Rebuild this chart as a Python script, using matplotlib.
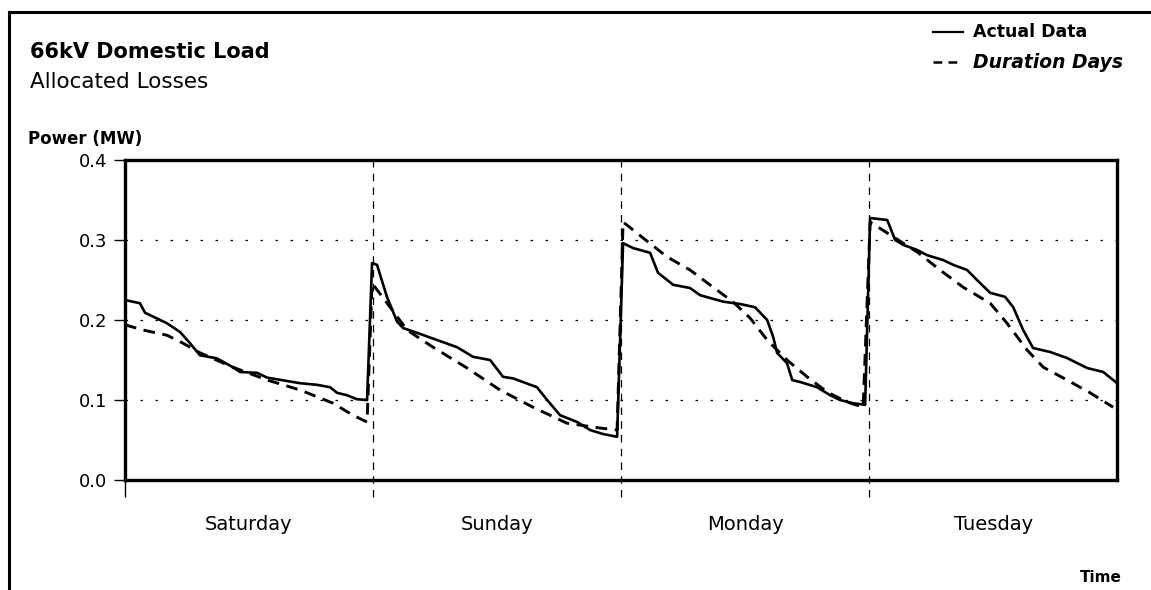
"""
66kV domestic load: allocated losses, actual data vs duration days.
"""

import matplotlib
matplotlib.use("Agg")
import matplotlib.pyplot as plt
from matplotlib.lines import Line2D

plt.rcParams['font.family'] = ['DejaVu Sans']

# time in days from Saturday 00:00
actual_time = [0.000, 0.060, 0.081, 0.169, 0.222, 0.262, 0.302, 0.371, 0.435, 0.464,
               0.532, 0.573, 0.706, 0.774, 0.827, 0.855, 0.895, 0.935, 0.976,
               0.996, 1.016, 1.056, 1.097, 1.121, 1.177, 1.258, 1.339, 1.403, 1.472,
               1.524, 1.565, 1.661, 1.702, 1.754, 1.823, 1.875, 1.927, 1.984,
               2.008, 2.048, 2.117, 2.149, 2.210, 2.278, 2.319, 2.411, 2.480, 2.540,
               2.589, 2.613, 2.629, 2.669, 2.690, 2.722, 2.790, 2.843, 2.883, 2.935, 2.984,
               3.004, 3.073, 3.105, 3.137, 3.194, 3.234, 3.298, 3.339, 3.395, 3.435,
               3.488, 3.548, 3.581, 3.621, 3.661, 3.730, 3.798, 3.879, 3.944, 4.000]
actual_power = [0.225, 0.221, 0.209, 0.196, 0.185, 0.171, 0.156, 0.152, 0.141, 0.135,
                0.134, 0.128, 0.121, 0.119, 0.116, 0.109, 0.106, 0.101, 0.100,
                0.271, 0.269, 0.229, 0.198, 0.190, 0.184, 0.175, 0.166, 0.154, 0.150,
                0.129, 0.127, 0.116, 0.100, 0.081, 0.0725, 0.0625, 0.0575, 0.054,
                0.296, 0.290, 0.284, 0.259, 0.244, 0.240, 0.231, 0.223, 0.220, 0.216,
                0.200, 0.179, 0.159, 0.146, 0.125, 0.1225, 0.116, 0.106, 0.100, 0.096, 0.094,
                0.3275, 0.325, 0.300, 0.294, 0.2875, 0.281, 0.275, 0.269, 0.2625, 0.250,
                0.234, 0.229, 0.216, 0.1875, 0.165, 0.160, 0.1525, 0.140, 0.135, 0.121]

duration_time = [0.000, 0.073, 0.169, 0.234, 0.302, 0.435, 0.573, 0.706, 0.839, 0.919, 0.976,
                 0.996, 1.069, 1.137, 1.242, 1.379, 1.512, 1.645, 1.782, 1.915, 1.984,
                 2.008, 2.089, 2.185, 2.278, 2.371, 2.452, 2.520, 2.589, 2.669, 2.750,
                 2.831, 2.911, 2.976,
                 3.004, 3.097, 3.194, 3.286, 3.379, 3.488, 3.556, 3.637, 3.702, 3.798,
                 3.891, 3.984]
duration_power = [0.194, 0.1875, 0.181, 0.171, 0.159, 0.141, 0.125, 0.1125, 0.096, 0.081, 0.0725,
                  0.246, 0.216, 0.1875, 0.166, 0.140, 0.1125, 0.091, 0.071, 0.065, 0.0625,
                  0.3225, 0.3025, 0.279, 0.2625, 0.241, 0.2225, 0.2025, 0.175, 0.150, 0.129,
                  0.110, 0.0975, 0.091,
                  0.3225, 0.304, 0.285, 0.2625, 0.241, 0.221, 0.196, 0.1625, 0.141, 0.125,
                  0.109, 0.091]

days = ['Saturday', 'Sunday', 'Monday', 'Tuesday']
y_ticks = [0.0, 0.1, 0.2, 0.3, 0.4]

fig = plt.figure(figsize=(11.51, 5.90), dpi=100)
ax = fig.add_axes([0.1086, 0.1864, 0.862, 0.5424])

# sparse dotted grid like the original scan
for y in y_ticks[1:-1]:
    ax.axhline(y, color='black', lw=0.9, ls=(0, (2, 10)), zorder=1)

# day separators, running a little below the axis
ax.vlines([1, 2, 3], -0.021, 0.4, colors='black', linestyles=(0, (6, 5)),
          lw=0.9, clip_on=False, zorder=1)

ax.plot(actual_time, actual_power, color='black', lw=1.9, zorder=3)
ax.plot(duration_time, duration_power, color='black', lw=2.1, ls=(0, (4, 2.6)), zorder=3)

ax.set_xlim(0, 4)
ax.set_ylim(0, 0.4)
ax.set_yticks(y_ticks)
ax.set_yticklabels([f'{v:.1f}' for v in y_ticks], fontsize=13)
ax.tick_params(axis='y', length=8, width=1, pad=5)

ax.set_xticks([0])
ax.set_xticklabels([''])
ax.tick_params(axis='x', which='major', length=12, width=1)
ax.set_xticks([0.5, 1.5, 2.5, 3.5], minor=True)
ax.set_xticklabels(days, minor=True, fontsize=14)
ax.tick_params(axis='x', which='minor', length=0, pad=25)

for sp in ax.spines.values():
    sp.set_linewidth(2.4)

# header text
fig.text(30 / 1151, 1 - 52 / 590, '66kV Domestic Load', fontsize=15, fontweight='bold',
         va='center', ha='left')
fig.text(30 / 1151, 1 - 82 / 590, 'Allocated Losses', fontsize=15.5, va='center', ha='left')
fig.text(28 / 1151, 1 - 139 / 590, 'Power (MW)', fontsize=12, fontweight='bold',
         va='center', ha='left')
fig.text(1122 / 1151, 1 - 578 / 590, 'Time', fontsize=11, fontweight='bold',
         va='center', ha='right')

# legend drawn by hand at the top right
fig.add_artist(Line2D([933 / 1151, 963 / 1151], [1 - 32 / 590] * 2, color='black', lw=1.6))
fig.add_artist(Line2D([933 / 1151, 963 / 1151], [1 - 62 / 590] * 2, color='black', lw=1.8,
                      ls=(0, (3.5, 2.5))))
fig.text(973 / 1151, 1 - 32 / 590, 'Actual Data', fontsize=12.5, fontweight='bold', va='center')
fig.text(973 / 1151, 1 - 62 / 590, 'Duration Days', fontsize=13.5, fontweight='bold',
         style='italic', va='center')

# outer frame (left and top edges only, as in the scan)
fig.add_artist(Line2D([9 / 1151, 9 / 1151], [0, 1 - 12 / 590], color='black', lw=2.2))
fig.add_artist(Line2D([9 / 1151, 1], [1 - 12 / 590] * 2, color='black', lw=2.2))

fig.savefig('out.png', dpi=100)
